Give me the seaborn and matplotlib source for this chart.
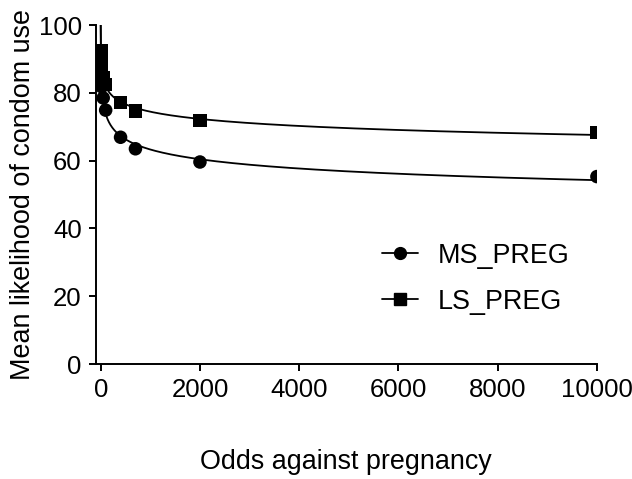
import numpy as np
import pandas as pd
import matplotlib
matplotlib.use("Agg")
import matplotlib.pyplot as plt
from matplotlib.lines import Line2D
import seaborn as sns

# values
odds = [5, 10, 20, 50, 100, 400, 700, 2000, 10000]
ms_preg = [88.8, 85.3, 81.8, 78.5, 74.9, 66.9, 63.5, 59.6, 55.3]
ls_preg = [92.5, 90.2, 87.7, 84.5, 82.5, 77.1, 74.6, 71.9, 68.3]
groups = ["MS_PREG", "LS_PREG"]
markers = {"MS_PREG": "o", "LS_PREG": "s"}

df = pd.DataFrame({
    "Odds": odds * 2,
    "Likelihood": ms_preg + ls_preg,
    "Group": ["MS_PREG"] * len(odds) + ["LS_PREG"] * len(odds),
})

sns.set_style("ticks")
plt.rcParams["font.family"] = ["Liberation Sans", "DejaVu Sans"]
for key in ["text.color", "axes.labelcolor", "xtick.color", "ytick.color",
            "axes.edgecolor"]:
    plt.rcParams[key] = "black"

fig = plt.figure(figsize=(6.32, 4.79), dpi=100)
ax = fig.add_axes([0.1515, 0.240, 0.793, 0.7077])


# hyperboloid fit  y = 100 / (1 + k*x)^s, least squares by grid search
def fit_curve(x, y):
    logks = np.linspace(-6, 2, 401)
    ss = np.linspace(0.01, 0.5, 491)
    K, S = np.meshgrid(np.exp(logks), ss, indexing="ij")
    pred = 100.0 / (1.0 + K[..., None] * x[None, None, :]) ** S[..., None]
    err = ((pred - y[None, None, :]) ** 2).sum(axis=-1)
    i, j = np.unravel_index(np.argmin(err), err.shape)
    return K[i, j], S[i, j]


grid = np.concatenate([np.linspace(0, 300, 600), np.linspace(300, 10000, 400)])
fits = []
for g in groups:
    sub = df[df["Group"] == g]
    k, s = fit_curve(sub["Odds"].values.astype(float),
                     sub["Likelihood"].values.astype(float))
    fits.append(pd.DataFrame({
        "Odds": grid,
        "Likelihood": 100.0 / (1.0 + k * grid) ** s,
        "Group": g,
    }))
fit_df = pd.concat(fits)

sns.lineplot(data=fit_df, x="Odds", y="Likelihood", units="Group",
             estimator=None, color="black", linewidth=1.3, ax=ax,
             legend=False)
sns.scatterplot(data=df, x="Odds", y="Likelihood", style="Group",
                markers=markers, color="black", s=95, edgecolor="black",
                linewidth=0, legend=False, ax=ax, zorder=3)

ax.set_xlim(-100, 10000)
ax.set_ylim(0, 100)
ax.set_xticks([0, 2000, 4000, 6000, 8000, 10000])
ax.set_yticks([0, 20, 40, 60, 80, 100])
ax.tick_params(labelsize=18.5, width=1.4, length=5, pad=5, color="black")
for side in ["left", "bottom"]:
    ax.spines[side].set_linewidth(1.4)
sns.despine(ax=ax)

ax.set_xlabel("Odds against pregnancy", fontsize=19.4, labelpad=34)
ax.set_ylabel("Mean likelihood of condom use", fontsize=19.4, labelpad=2)

handles = [Line2D([], [], color="black", marker=markers[g], markersize=8.5,
                  linewidth=1.3) for g in groups]
ax.legend(handles, groups, frameon=False, fontsize=19.4, handlelength=1.35,
          handletextpad=0.75, labelspacing=0.75, loc="upper left",
          bbox_to_anchor=(0.522, 0.43))

plt.savefig("out.png", dpi=100)
